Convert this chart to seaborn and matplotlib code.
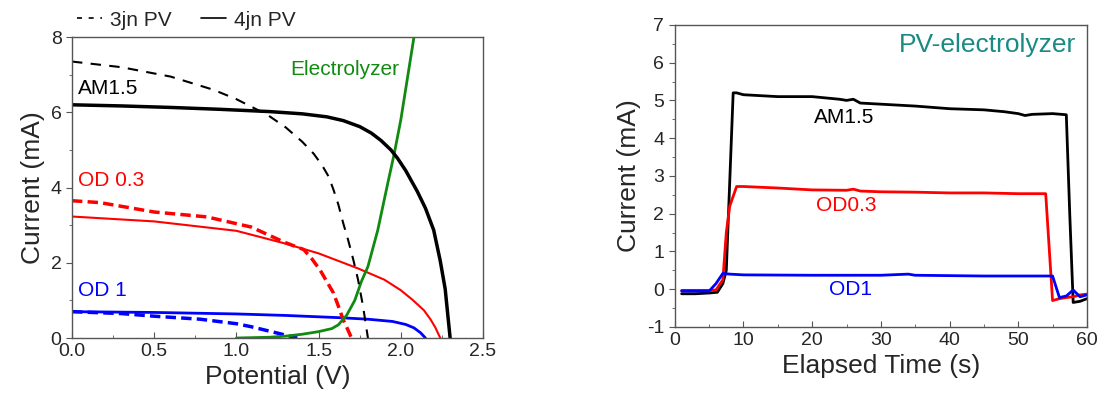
import pandas as pd
import numpy as np
import seaborn as sns
import matplotlib.pyplot as plt
from matplotlib.lines import Line2D
from matplotlib.ticker import MultipleLocator

sns.set_style("ticks")
plt.rcParams['font.family'] = ['Liberation Sans', 'DejaVu Sans']
plt.rcParams['axes.unicode_minus'] = False

# ---- left panel: J-V curves (Potential V, Current mA) ----
am15_4jn_v = [0, 0.3, 0.6, 0.9, 1.2, 1.4, 1.55, 1.65, 1.75, 1.82, 1.88, 1.94, 1.98, 2.03, 2.1, 2.15, 2.2, 2.24, 2.27, 2.3]
am15_4jn_i = [6.2, 6.17, 6.13, 6.08, 6.02, 5.96, 5.88, 5.78, 5.62, 5.45, 5.25, 5.0, 4.78, 4.45, 3.9, 3.45, 2.87, 2.05, 1.3, 0]
am15_3jn_v = [0, 0.3, 0.6, 0.86, 1.0, 1.19, 1.3, 1.4, 1.47, 1.52, 1.56, 1.59, 1.62, 1.65, 1.68, 1.71, 1.74, 1.77, 1.8]
am15_3jn_i = [7.35, 7.2, 6.95, 6.6, 6.35, 5.93, 5.6, 5.22, 4.9, 4.6, 4.3, 3.95, 3.55, 3.05, 2.6, 2.1, 1.55, 0.85, 0]
od03_4jn_v = [0, 0.5, 0.8, 1.0, 1.29, 1.5, 1.74, 1.9, 2.0, 2.07, 2.14, 2.18, 2.21, 2.24]
od03_4jn_i = [3.23, 3.1, 2.95, 2.85, 2.52, 2.25, 1.85, 1.55, 1.27, 1.02, 0.74, 0.5, 0.28, 0]
od03_3jn_v = [0, 0.17, 0.5, 0.82, 1.09, 1.29, 1.41, 1.46, 1.51, 1.55, 1.59, 1.62, 1.65, 1.68, 1.7]
od03_3jn_i = [3.65, 3.6, 3.35, 3.22, 2.95, 2.55, 2.35, 2.1, 1.8, 1.5, 1.2, 0.85, 0.48, 0.2, 0]
od1_4jn_v = [0, 0.5, 1.0, 1.3, 1.63, 1.8, 1.95, 2.03, 2.08, 2.12, 2.15]
od1_4jn_i = [0.7, 0.68, 0.64, 0.6, 0.54, 0.5, 0.44, 0.36, 0.27, 0.14, 0]
od1_3jn_v = [0, 0.3, 0.5, 0.78, 1.0, 1.09, 1.25, 1.37]
od1_3jn_i = [0.7, 0.65, 0.58, 0.5, 0.38, 0.3, 0.13, 0]
elec_v = [1.0, 1.2, 1.3, 1.4, 1.5, 1.58, 1.62, 1.67, 1.72, 1.76, 1.8, 1.86, 1.92, 1.96, 2.0, 2.04, 2.08]
elec_i = [0, 0.02, 0.05, 0.1, 0.17, 0.25, 0.35, 0.6, 1.0, 1.5, 1.9, 2.87, 4.1, 4.9, 5.8, 6.9, 8.0]

# ---- right panel: current vs elapsed time ----
t_am15 = [1, 3, 5, 6.2, 7, 7.5, 8.5, 9, 10, 15, 20, 24, 25, 26, 27, 30, 35, 40, 45, 48, 50, 51, 52, 55, 57, 57.5, 58, 59, 60]
i_am15 = [-0.12, -0.12, -0.1, -0.08, 0.15, 0.5, 5.2, 5.2, 5.15, 5.1, 5.1, 5.03, 5.0, 5.03, 4.93, 4.9, 4.85, 4.78, 4.75, 4.7, 4.65, 4.6, 4.63, 4.65, 4.62, 2.0, -0.35, -0.32, -0.25]
t_od03 = [1, 5, 6, 7, 7.5, 8, 9, 10, 15, 20, 25, 26, 27, 30, 35, 40, 45, 50, 54, 55, 56, 57, 58, 59, 60]
i_od03 = [-0.03, -0.03, -0.02, 0.25, 1.5, 2.2, 2.72, 2.72, 2.68, 2.63, 2.62, 2.65, 2.6, 2.58, 2.57, 2.55, 2.55, 2.53, 2.53, -0.3, -0.25, -0.22, -0.2, -0.15, -0.13]
t_od1 = [1, 5, 6, 7, 8, 10, 20, 30, 34, 35, 45, 50, 55, 56, 57, 58, 59, 60]
i_od1 = [-0.05, -0.05, 0.15, 0.42, 0.4, 0.38, 0.37, 0.37, 0.4, 0.37, 0.35, 0.35, 0.35, -0.22, -0.18, -0.02, -0.2, -0.15]

fig = plt.figure(figsize=(10.99, 4.05), dpi=100)
ax1 = fig.add_axes([0.0655, 0.1654, 0.374, 0.743])
ax2 = fig.add_axes([0.614, 0.1926, 0.375, 0.746])

def draw(ax, x, y, color, lw, ls="-"):
    sns.lineplot(x=x, y=y, ax=ax, color=color, linewidth=lw, linestyle=ls,
                 sort=False, estimator=None)

draw(ax1, od1_3jn_v, od1_3jn_i, "#0000ff", 2.5, (0, (3, 1.5)))
draw(ax1, od1_4jn_v, od1_4jn_i, "#0000ff", 2.0)
draw(ax1, od03_3jn_v, od03_3jn_i, "#ff0000", 2.5, (0, (3, 1.5)))
draw(ax1, od03_4jn_v, od03_4jn_i, "#ff0000", 1.5)
draw(ax1, elec_v, elec_i, "#108a10", 2.0)
draw(ax1, am15_3jn_v, am15_3jn_i, "black", 1.5, (0, (5, 4)))
draw(ax1, am15_4jn_v, am15_4jn_i, "black", 2.5)

ax1.set_xlim(0, 2.5)
ax1.set_ylim(0, 8)
ax1.xaxis.set_major_locator(MultipleLocator(0.5))
ax1.xaxis.set_minor_locator(MultipleLocator(0.25))
ax1.yaxis.set_major_locator(MultipleLocator(2))
ax1.yaxis.set_minor_locator(MultipleLocator(1))
ax1.set_xlabel("Potential (V)", fontsize=19)
ax1.set_ylabel("Current (mA)", fontsize=19)
ax1.xaxis.set_major_formatter(plt.FuncFormatter(lambda v, p: f"{v:.1f}"))

ax1.text(0.035, 6.64, "AM1.5", color="black", fontsize=15, va="center")
ax1.text(0.035, 4.2, "OD 0.3", color="#ff0000", fontsize=15, va="center")
ax1.text(0.035, 1.27, "OD 1", color="#0000ff", fontsize=15, va="center")
ax1.text(1.33, 7.15, "Electrolyzer", color="#108a10", fontsize=15, va="center")

handles = [Line2D([], [], color="black", lw=1.2, ls=(0, (3, 4))),
           Line2D([], [], color="black", lw=1.2)]
ax1.legend(handles, ["3jn PV", "4jn PV"], loc="center left", bbox_to_anchor=(0.012, 1.056),
           ncol=2, frameon=False, fontsize=15, handlelength=1.2, handletextpad=0.4,
           columnspacing=1.4, borderaxespad=0, borderpad=0.0)

draw(ax2, t_am15, i_am15, "black", 2.0)
draw(ax2, t_od03, i_od03, "#ff0000", 2.0)
draw(ax2, t_od1, i_od1, "#0000ff", 2.0)

ax2.set_xlim(0, 60)
ax2.set_ylim(-1, 7)
ax2.xaxis.set_major_locator(MultipleLocator(10))
ax2.xaxis.set_minor_locator(MultipleLocator(5))
ax2.yaxis.set_major_locator(MultipleLocator(1))
ax2.yaxis.set_minor_locator(MultipleLocator(0.5))
ax2.set_xlabel("Elapsed Time (s)", fontsize=19)
ax2.set_ylabel("Current (mA)", fontsize=19)

ax2.text(24.7, 4.54, "AM1.5", color="black", fontsize=15, ha="center", va="center")
ax2.text(24.9, 2.23, "OD0.3", color="#ff0000", fontsize=15, ha="center", va="center")
ax2.text(25.6, 0.0, "OD1", color="#0000ff", fontsize=15, ha="center", va="center")
ax2.text(58.5, 6.47, "PV-electrolyzer", color="#1a8a84", fontsize=19, ha="right", va="center")

for ax in (ax1, ax2):
    for s in ax.spines.values():
        s.set_color("#555555")
        s.set_linewidth(1.0)
    ax.tick_params(axis="both", which="major", labelsize=14, color="#555555", length=4)
    ax.tick_params(axis="both", which="minor", color="#555555", length=2.5)
    ax.tick_params(axis="x", which="both", direction="in")
    ax.tick_params(axis="y", which="both", direction="out")

fig.savefig("out.png", dpi=100)
